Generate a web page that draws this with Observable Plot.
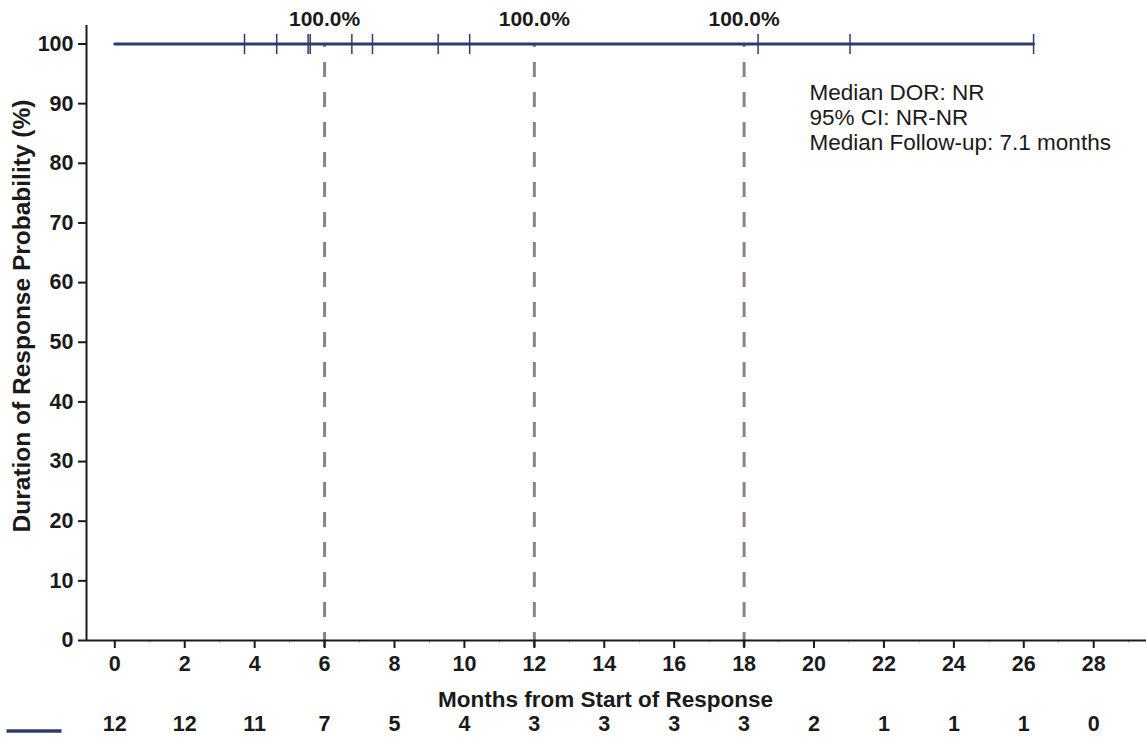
<!DOCTYPE html>
<html>
<head>
<meta charset="utf-8">
<script src="https://cdn.jsdelivr.net/npm/d3@7"></script>
<script src="https://cdn.jsdelivr.net/npm/@observablehq/plot@0.6"></script>
<style>
  html, body { margin: 0; padding: 0; background: #ffffff; }
  #chart svg { display: block; }
</style>
</head>
<body>
<div id="chart"></div>
<script>
// ---- data ----
const kmTimes = [0, 26.28];          // step curve knots (months)
const kmSurv = [100, 100];           // DOR probability (%)
const censorTimes = [3.71, 4.63, 5.53, 5.59, 6.78, 7.37, 9.25, 10.15, 18.40, 21.03, 26.28];
const landmarks = [6, 12, 18];
const landmarkLabels = ["100.0%", "100.0%", "100.0%"];
const xTicks = [0, 2, 4, 6, 8, 10, 12, 14, 16, 18, 20, 22, 24, 26, 28];
const minorTicks = [1, 3, 5, 7, 9, 11, 13, 15, 17, 19, 21, 23, 25, 27, 29];
const yTicks = [0, 10, 20, 30, 40, 50, 60, 70, 80, 90, 100];
const riskTimes = [0, 2, 4, 6, 8, 10, 12, 14, 16, 18, 20, 22, 24, 26, 28];
const riskN = [12, 12, 11, 7, 5, 4, 3, 3, 3, 3, 2, 1, 1, 1, 0];
const annotation = ["Median DOR: NR", "95% CI: NR-NR", "Median Follow-up: 7.1 months"];
const xTitle = "Months from Start of Response";
const yTitle = "Duration of Response Probability (%)";

// ---- styling ----
const navy = "#2e3a6c";
const ink = "#1a1a1a";
const xDomain = [-0.81, 29.51];
const yDomain = [0, 103.1];

const vbar = {draw(ctx, size) { const r = Math.sqrt(size / Math.PI); ctx.moveTo(0, -r); ctx.lineTo(0, r); }};
const hbar = {draw(ctx, size) { const r = Math.sqrt(size / Math.PI); ctx.moveTo(-r, 0); ctx.lineTo(r, 0); }};

const km = kmTimes.map((t, i) => ({t, s: kmSurv[i]}));

const chart = Plot.plot({
  width: 1146,
  height: 745,
  marginLeft: 86,
  marginRight: 0,
  marginTop: 25,
  marginBottom: 105,
  style: {fontFamily: "'Liberation Sans', Arial, sans-serif", background: "#ffffff", color: ink},
  x: {domain: xDomain},
  y: {domain: yDomain},
  marks: [
    Plot.ruleX(landmarks, {x: d => d, y1: 0, y2: 100, insetTop: 7, stroke: "#8a8582", strokeWidth: 3, strokeDasharray: "15,15"}),
    Plot.axisX({ticks: minorTicks, tickSize: 3, tickFormat: () => "", label: null, stroke: "#bbbbbb", strokeWidth: 1}),
    Plot.axisX({ticks: xTicks, tickSize: 8, tickPadding: 7, fontSize: 21.5, fontWeight: "bold", label: null, strokeWidth: 2, stroke: ink, fill: ink}),
    Plot.axisY({ticks: yTicks, tickSize: 8, tickPadding: 5, fontSize: 21.5, fontWeight: "bold", label: null, strokeWidth: 2, stroke: ink, fill: ink}),
    Plot.ruleY([0], {stroke: ink, strokeWidth: 2}),
    Plot.ruleX([xDomain[0]], {y1: yDomain[0], y2: yDomain[1], stroke: ink, strokeWidth: 2}),
    Plot.line(km, {x: "t", y: "s", curve: "step-after", stroke: navy, strokeWidth: 3}),
    Plot.dot(censorTimes, {x: d => d, y: 100, symbol: vbar, r: 10, stroke: navy, strokeWidth: 1.5, fill: "none"}),
    Plot.text(landmarks, {x: d => d, y: 100, text: (d, i) => landmarkLabels[i], dy: -25, fontSize: 21, fontWeight: "bold", fill: ink}),
    Plot.text([annotation.join("\n")], {frameAnchor: "top-left", text: d => d, textAnchor: "start", lineAnchor: "top", dx: 723, dy: 57, fontSize: 22.5, lineHeight: 1.11, fill: ink}),
    Plot.text([xTitle], {frameAnchor: "bottom", text: d => d, dx: -11, dy: 59, lineAnchor: "middle", fontSize: 22.5, fontWeight: "bold", fill: ink}),
    Plot.text([yTitle], {frameAnchor: "left", text: d => d, rotate: -90, dx: -64, dy: -17, textAnchor: "middle", lineAnchor: "middle", fontSize: 24.5, fontWeight: "bold", fill: ink}),
    Plot.text(riskTimes, {x: d => d, text: (d, i) => String(riskN[i]), frameAnchor: "bottom", dy: 84, lineAnchor: "middle", fontSize: 21.5, fontWeight: "bold", fill: ink}),
    Plot.dot([0], {frameAnchor: "bottom-left", symbol: hbar, r: 27.5, dx: -52.5, dy: 90.5, stroke: navy, strokeWidth: 3.5, fill: "none"})
  ]
});
document.getElementById("chart").appendChild(chart);
</script>
</body>
</html>
